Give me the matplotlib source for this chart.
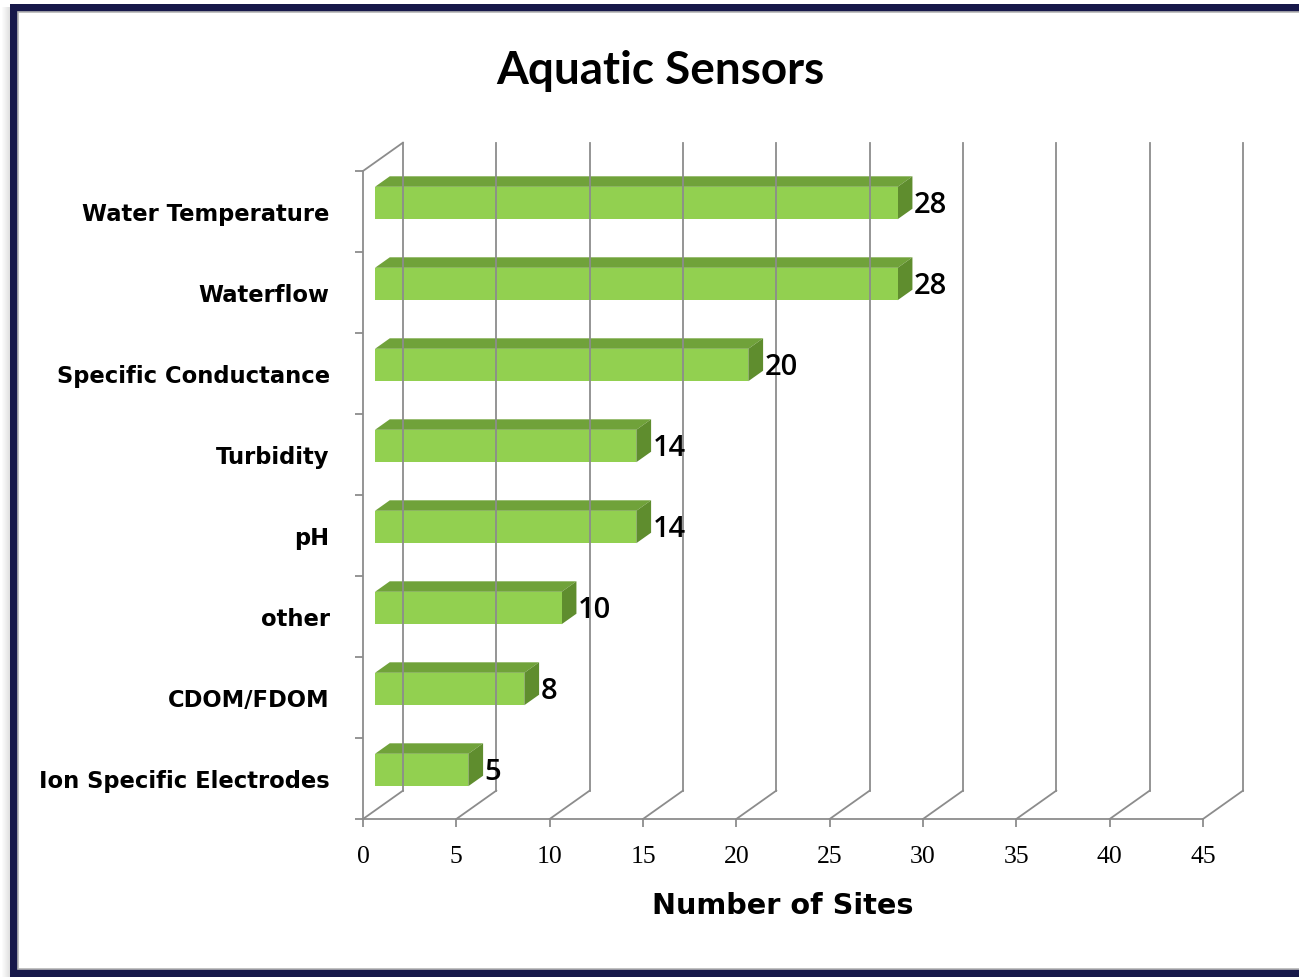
import matplotlib
matplotlib.use("Agg")
import matplotlib.pyplot as plt
from matplotlib.patches import Rectangle, Polygon

# ---
# Data
# ---

categories = ["Water Temperature", "Waterflow", "Specific Conductance", "Turbidity",
              "pH", "other", "CDOM/FDOM", "Ion Specific Electrodes"]
sites = [28, 28, 20, 14, 14, 10, 8, 5]
xticks = [0, 5, 10, 15, 20, 25, 30, 35, 40, 45]

# ---
# Style
# ---

W, H = 1299, 978
front_c = "#92d050"
top_c = "#70a23a"
side_c = "#5f8d2e"
grid_c = "#8c8c8c"
navy = "#17184a"

# 3D depth offset (data units) and where the bars sit inside the depth
depth_x = 2.14
depth_y = -0.35
f0, f1 = 0.30, 0.67
bar_h = 0.40

fig = plt.figure(figsize=(W / 100, H / 100), dpi=100)
fig.patch.set_facecolor("white")

# frame: soft shadow, navy border, inner thin grey line
for k in range(8):
    fig.patches.append(Rectangle(((10 - k - 1) / W, 0), 1 / W, 1 - 8 / H,
                                 transform=fig.transFigure, color="black",
                                 alpha=0.12 * (1 - k / 8), lw=0, zorder=-10))
fig.patches.append(Rectangle((10 / W, -0.05), 1.1, 1 - 5 / H + 0.05,
                             transform=fig.transFigure, color=navy, lw=0, zorder=-9))
fig.patches.append(Rectangle((18 / W, 8 / H), 1.1, 1 - 21 / H,
                             transform=fig.transFigure, facecolor="white",
                             edgecolor="#b5b5b5", lw=1.2, zorder=-8))

ax = fig.add_axes([363 / W, 158 / H, 840 / W, 648 / H])
ax.set_facecolor("none")
n = len(categories)
ax.set_xlim(0, 45)
ax.set_ylim(n, 0)

# back wall gridlines and floor diagonals
for xv in xticks:
    ax.plot([xv, xv + depth_x], [n, n + depth_y], color=grid_c, lw=1.3, clip_on=False)
    ax.plot([xv + depth_x, xv + depth_x], [n + depth_y, depth_y], color=grid_c, lw=1.3,
            clip_on=False)
# top of the side wall
ax.plot([0, depth_x], [0, depth_y], color=grid_c, lw=1.3, clip_on=False)

# bars
for i, v in enumerate(sites):
    yc = i + 0.5 + f0 * depth_y
    x0 = f0 * depth_x
    x1 = v + f0 * depth_x
    yt, yb = yc - bar_h / 2, yc + bar_h / 2
    dx = (f1 - f0) * depth_x
    dy = (f1 - f0) * depth_y
    ax.add_patch(Polygon([(x0, yt), (x1, yt), (x1 + dx, yt + dy), (x0 + dx, yt + dy)],
                         closed=True, facecolor=top_c, edgecolor="none", clip_on=False))
    ax.add_patch(Polygon([(x1, yt), (x1 + dx, yt + dy), (x1 + dx, yb + dy), (x1, yb)],
                         closed=True, facecolor=side_c, edgecolor="none", clip_on=False))
    ax.add_patch(Rectangle((x0, yt), v, bar_h, facecolor=front_c, edgecolor="none",
                           clip_on=False))
    ax.text(x1 + dx + 0.07, yc + 0.02, str(v), ha="left", va="center", fontsize=21,
            family="Open Sans", fontweight="semibold", color="black", clip_on=False)

# axes: front plane
for s in ["top", "right"]:
    ax.spines[s].set_visible(False)
for s in ["left", "bottom"]:
    ax.spines[s].set_color(grid_c)
    ax.spines[s].set_linewidth(1.3)

ax.set_xticks(xticks)
ax.set_xticklabels([str(t) for t in xticks], family="Liberation Serif", fontsize=18.5)
ax.tick_params(axis="x", direction="out", length=6, width=1.3, color=grid_c, pad=13)

ax.set_yticks([i + 0.5 for i in range(n)])
ax.set_yticklabels(categories, family="DejaVu Sans", fontweight="bold", fontsize=16.3)
ax.tick_params(axis="y", length=0, pad=24)
ax.set_yticks(range(n + 1), minor=True)
ax.tick_params(axis="y", which="minor", direction="out", length=6, width=1.3, color=grid_c)

ax.set_xlabel("Number of Sites", family="DejaVu Sans", fontweight="bold", fontsize=20.7,
              labelpad=17)

fig.text(660 / W, 1 - 71 / H, "Aquatic Sensors", ha="center", va="center",
         family="Lato", fontweight="bold", fontsize=33)

fig.savefig("out.png", dpi=100)
